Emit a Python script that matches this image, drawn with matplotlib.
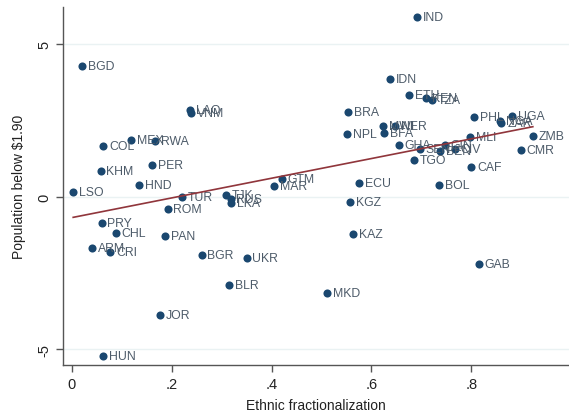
import matplotlib
matplotlib.use("Agg")
import matplotlib.pyplot as plt
import numpy as np

plt.rcParams['font.family'] = ['Liberation Sans', 'DejaVu Sans']

# country codes, ethnic fractionalization, population below $1.90 (residual)
countries = ['IND', 'BGD', 'LAO', 'VNM', 'COL', 'MEX', 'RWA', 'KHM', 'PER', 'HND',
             'LSO', 'TUR', 'ROM', 'TJK', 'RUS', 'LKA', 'MAR', 'GTM', 'PRY', 'CHL',
             'PAN', 'ARM', 'CRI', 'BGR', 'UKR', 'BLR', 'JOR', 'HUN', 'IDN', 'ETH',
             'KEN', 'TZA', 'BRA', 'PHL', 'UGA', 'NGA', 'ZAR', 'NPL', 'MWI', 'NER',
             'BFA', 'GHA', 'SEN', 'GIN', 'BEN', 'CIV', 'MLI', 'ZMB', 'CMR', 'TGO',
             'CAF', 'ECU', 'BOL', 'KGZ', 'KAZ', 'GAB', 'MKD']
frac = [0.691, 0.021, 0.237, 0.239, 0.063, 0.119, 0.167, 0.058, 0.161, 0.135,
        0.003, 0.220, 0.192, 0.308, 0.318, 0.319, 0.405, 0.420, 0.060, 0.088,
        0.187, 0.040, 0.077, 0.260, 0.350, 0.315, 0.177, 0.063, 0.637, 0.675,
        0.709, 0.722, 0.553, 0.805, 0.882, 0.857, 0.860, 0.552, 0.623, 0.647,
        0.625, 0.655, 0.697, 0.747, 0.737, 0.767, 0.798, 0.923, 0.899, 0.685,
        0.800, 0.575, 0.735, 0.557, 0.563, 0.815, 0.511]
poverty = [5.89, 4.30, 2.86, 2.76, 1.68, 1.85, 1.83, 0.84, 1.03, 0.39,
           0.17, -0.01, -0.39, 0.06, -0.08, -0.20, 0.37, 0.59, -0.86, -1.19,
           -1.27, -1.68, -1.81, -1.92, -2.00, -2.89, -3.86, -5.20, 3.87, 3.35,
           3.24, 3.19, 2.78, 2.61, 2.65, 2.48, 2.41, 2.07, 2.34, 2.34,
           2.08, 1.70, 1.57, 1.70, 1.51, 1.57, 1.96, 1.99, 1.55, 1.22,
           0.99, 0.46, 0.39, -0.17, -1.21, -2.20, -3.16]

# linear fit
fit_intercept = -0.68
fit_slope = 3.23

xticks = [0, 0.2, 0.4, 0.6, 0.8]
xticklabels = ['0', '.2', '.4', '.6', '.8']
yticks = [-5, 0, 5]

fig = plt.figure(figsize=(5.69, 4.14), dpi=100)
ax = fig.add_axes([0.1107, 0.116, 0.889, 0.865])

navy = '#1a476f'
ax.scatter(frac, poverty, s=34, color=navy, zorder=3, linewidths=0)
for name, xv, yv in zip(countries, frac, poverty):
    ax.annotate(name, (xv, yv), xytext=(4.2, 0), textcoords='offset points',
                va='center', ha='left', fontsize=8.8, color='#4d5b69', zorder=3)

xs = np.array([min(frac), max(frac)])
ax.plot(xs, fit_intercept + fit_slope * xs, color='#90353b', linewidth=1.2, zorder=4)

ax.set_xlim(-0.0174, 0.995)
ax.set_ylim(-5.51, 6.23)
ax.set_xticks(xticks)
ax.set_xticklabels(xticklabels)
ax.set_yticks(yticks)
ax.set_yticklabels([str(v) for v in yticks], rotation=90, va='center')
ax.tick_params(axis='both', labelsize=10.5, color='#555555', length=5, width=1,
               labelcolor='#222222', direction='out')

ax.grid(axis='y', color='#eaf2f3', linewidth=1)
ax.set_axisbelow(True)
for side in ['top', 'right']:
    ax.spines[side].set_visible(False)
for side in ['left', 'bottom']:
    ax.spines[side].set_color('#555555')
    ax.spines[side].set_linewidth(1)

ax.set_xlabel('Ethnic fractionalization', fontsize=10, color='#222222', labelpad=5)
ax.set_ylabel('Population below $1.90', fontsize=10, color='#222222', labelpad=8)

fig.savefig('out.png', dpi=100)
